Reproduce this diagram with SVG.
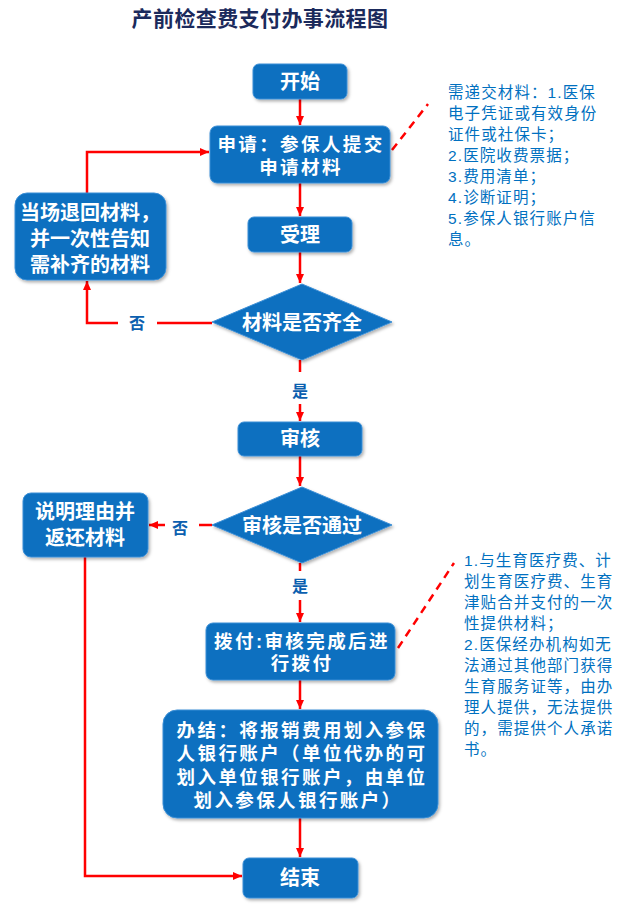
<svg xmlns="http://www.w3.org/2000/svg" width="640" height="919" viewBox="0 0 640 919">
<style>
.box{fill:#0A6FC0;stroke:#3C8FD6;stroke-width:1;filter:url(#sh)}
.bt{font-family:"Liberation Sans","Noto Sans CJK SC",sans-serif;font-weight:bold;fill:#ffffff;text-anchor:middle;font-size:20px}
.bm{font-family:"Liberation Sans","Noto Sans CJK SC",sans-serif;font-weight:bold;fill:#ffffff;text-anchor:middle;font-size:18.5px;letter-spacing:2.4px}
.lbl{font-family:"Liberation Sans","Noto Sans CJK SC",sans-serif;font-weight:bold;fill:#0B5FAF;text-anchor:middle;font-size:16px}
.note{font-family:"Liberation Sans","Noto Sans CJK SC",sans-serif;fill:#0070C0;font-size:15.5px;letter-spacing:1.1px}
.ln{fill:none;stroke:#FF0000;stroke-width:2.5}
.ar{marker-end:url(#ah)}
.dash{fill:none;stroke:#FF0000;stroke-width:2.5;stroke-dasharray:8,6}
</style>
<defs>
<marker id="ah" markerUnits="userSpaceOnUse" markerWidth="10" markerHeight="10" refX="9" refY="5" orient="auto">
<path d="M0,1 L9,5 L0,9 Z" fill="#FF0000"/>
</marker>
<filter id="sh" x="-10%" y="-10%" width="125%" height="135%">
<feDropShadow dx="1.5" dy="2" stdDeviation="1.5" flood-color="#000000" flood-opacity="0.3"/>
</filter>
</defs>
<rect width="640" height="919" fill="#ffffff"/>
<text x="260" y="26" style="font-family:'Liberation Sans','Noto Sans CJK SC',sans-serif;font-weight:bold;font-size:21px;letter-spacing:0.4px;fill:#1B2A5C;text-anchor:middle">产前检查费支付办事流程图</text>

<g id="connectors">
<path class="ln ar" d="M300,99 L300,125"/>
<path class="ln ar" d="M300,183 L300,216"/>
<path class="ln ar" d="M300,252 L300,283"/>
<path class="ln" d="M300,360 L300,372"/>
<path class="ln ar" d="M300,404 L300,421"/>
<path class="ln ar" d="M300,456 L300,486"/>
<path class="ln" d="M300,563 L300,571"/>
<path class="ln ar" d="M300,600 L300,622"/>
<path class="ln ar" d="M300,680 L300,709"/>
<path class="ln ar" d="M300,818 L300,857"/>
<path class="ln" d="M212,323 L157,323"/>
<path class="ln ar" d="M118,323 L87,323 L87,281"/>
<path class="ln ar" d="M87,193 L87,152 L209,152"/>
<path class="ln" d="M212,525 L199,525"/>
<path class="ln ar" d="M165,525 L149,525"/>
<path class="ln ar" d="M85,557 L85,876 L242,876"/>
<path class="dash" d="M392,150 L428,104"/>
<path class="dash" d="M398,648 L454,563"/>
<text class="lbl" x="137" y="329">否</text>
<text class="lbl" x="300" y="397">是</text>
<text class="lbl" x="180" y="534">否</text>
<text class="lbl" x="300" y="592">是</text>
</g>

<g id="start">
<rect class="box" x="253" y="64" width="94" height="35" rx="6"/>
<text class="bt" x="300" y="89">开始</text>
</g>
<g id="apply">
<rect class="box" x="210" y="126" width="180" height="57" rx="7"/>
<text class="bm"><tspan x="301" y="151">申请：参保人提交</tspan><tspan x="301" y="174">申请材料</tspan></text>
</g>
<g id="accept">
<rect class="box" x="248" y="217" width="104" height="35" rx="6"/>
<text class="bt" x="300" y="242">受理</text>
</g>
<g id="check1">
<polygon class="box" points="212,322 302,284 392,322 302,360"/>
<text class="bt" x="302" y="330">材料是否齐全</text>
</g>
<g id="return1">
<rect class="box" x="15" y="193" width="151" height="87" rx="12"/>
<text class="bt"><tspan x="90" y="220">当场退回材料，</tspan><tspan x="90" y="246">并一次性告知</tspan><tspan x="90" y="272">需补齐的材料</tspan></text>
</g>
<g id="review">
<rect class="box" x="238" y="422" width="124" height="34" rx="6"/>
<text class="bt" x="300" y="446">审核</text>
</g>
<g id="check2">
<polygon class="box" points="212,525 302,487 392,525 302,563"/>
<text class="bt" x="302" y="533">审核是否通过</text>
</g>
<g id="return2">
<rect class="box" x="23" y="493" width="125" height="64" rx="8"/>
<text class="bt"><tspan x="85" y="519">说明理由并</tspan><tspan x="85" y="545">返还材料</tspan></text>
</g>
<g id="pay">
<rect class="box" x="206" y="623" width="189" height="57" rx="7"/>
<text class="bm"><tspan x="302" y="648">拨付:审核完成后进</tspan><tspan x="302" y="670">行拨付</tspan></text>
</g>
<g id="finish">
<rect class="box" x="163" y="710" width="275" height="108" rx="14"/>
<text class="bm"><tspan x="302" y="737">办结：将报销费用划入参保</tspan><tspan x="302" y="760">人银行账户（单位代办的可</tspan><tspan x="302" y="784">划入单位银行账户，由单位</tspan><tspan x="298" y="807">划入参保人银行账户）</tspan></text>
</g>
<g id="end">
<rect class="box" x="243" y="858" width="115" height="40" rx="6"/>
<text class="bt" x="300" y="885">结束</text>
</g>

<g id="note1">
<text class="note"><tspan x="448" y="98">需递交材料：1.医保</tspan><tspan x="448" y="119">电子凭证或有效身份</tspan><tspan x="448" y="140">证件或社保卡；</tspan><tspan x="448" y="161">2.医院收费票据；</tspan><tspan x="448" y="182">3.费用清单；</tspan><tspan x="448" y="203">4.诊断证明；</tspan><tspan x="448" y="224">5.参保人银行账户信</tspan><tspan x="448" y="245">息。</tspan></text>
</g>
<g id="note2">
<text class="note"><tspan x="464" y="566">1.与生育医疗费、计</tspan><tspan x="464" y="587">划生育医疗费、生育</tspan><tspan x="464" y="608">津贴合并支付的一次</tspan><tspan x="464" y="629">性提供材料；</tspan><tspan x="464" y="650">2.医保经办机构如无</tspan><tspan x="464" y="671">法通过其他部门获得</tspan><tspan x="464" y="692">生育服务证等，由办</tspan><tspan x="464" y="713">理人提供，无法提供</tspan><tspan x="464" y="734">的，需提供个人承诺</tspan><tspan x="464" y="755">书。</tspan></text>
</g>
</svg>
